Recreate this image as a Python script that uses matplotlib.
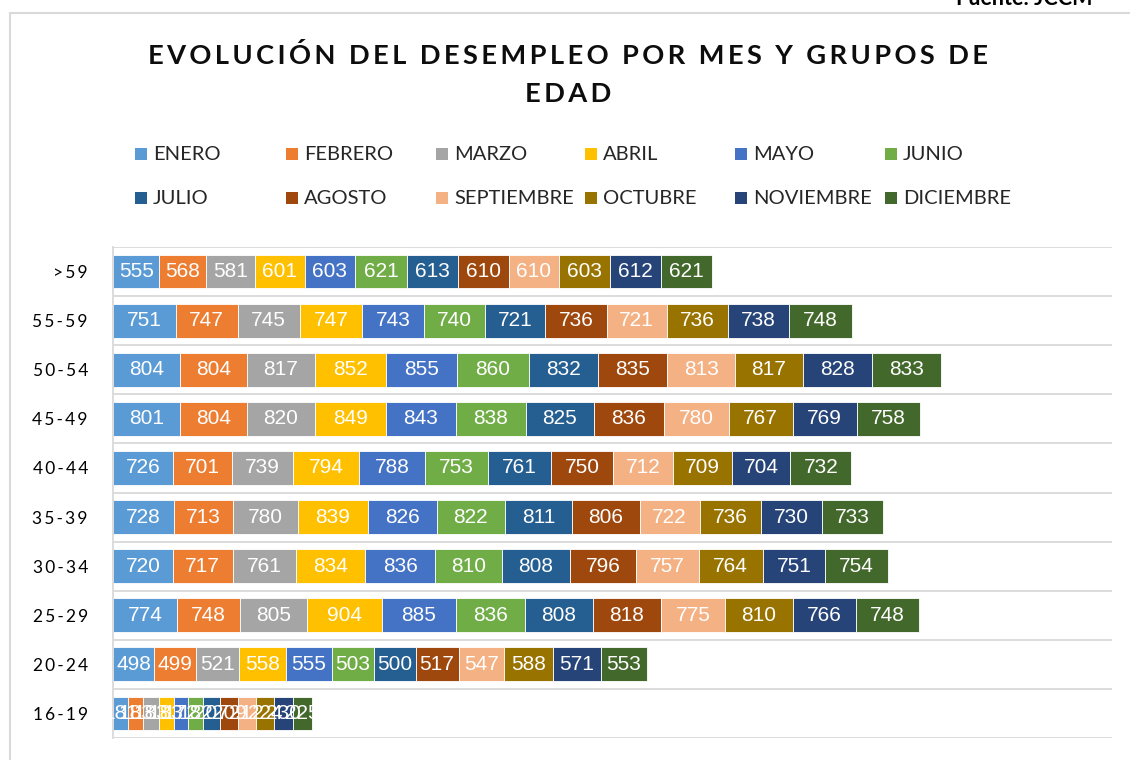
import matplotlib.pyplot as plt
import matplotlib.patches as mpatches
import numpy as np

plt.rcParams['font.family'] = ['Lato', 'DejaVu Sans']

meses = ['ENERO', 'FEBRERO', 'MARZO', 'ABRIL', 'MAYO', 'JUNIO',
         'JULIO', 'AGOSTO', 'SEPTIEMBRE', 'OCTUBRE', 'NOVIEMBRE', 'DICIEMBRE']
colores = ['#5B9BD5', '#ED7D31', '#A5A5A5', '#FFC000', '#4472C4', '#70AD47',
           '#255E91', '#9E480E', '#F4B183', '#997300', '#264478', '#43682B']

# grupos de edad (de abajo hacia arriba)
grupos = ['16-19', '20-24', '25-29', '30-34', '35-39', '40-44',
          '45-49', '50-54', '55-59', '>59']

# desempleados por mes (enero..diciembre) para cada grupo
g16_19 = [181, 183, 183, 183, 172, 182, 207, 209, 212, 224, 230, 225]
g20_24 = [498, 499, 521, 558, 555, 503, 500, 517, 547, 588, 571, 553]
g25_29 = [774, 748, 805, 904, 885, 836, 808, 818, 775, 810, 766, 748]
g30_34 = [720, 717, 761, 834, 836, 810, 808, 796, 757, 764, 751, 754]
g35_39 = [728, 713, 780, 839, 826, 822, 811, 806, 722, 736, 730, 733]
g40_44 = [726, 701, 739, 794, 788, 753, 761, 750, 712, 709, 704, 732]
g45_49 = [801, 804, 820, 849, 843, 838, 825, 836, 780, 767, 769, 758]
g50_54 = [804, 804, 817, 852, 855, 860, 832, 835, 813, 817, 828, 833]
g55_59 = [751, 747, 745, 747, 743, 740, 721, 736, 721, 736, 738, 748]
g59 = [555, 568, 581, 601, 603, 621, 613, 610, 610, 603, 612, 621]

datos = np.array([g16_19, g20_24, g25_29, g30_34, g35_39, g40_44,
                  g45_49, g50_54, g55_59, g59])


def espaciar(txt, sep='\u200a'):
    return sep.join(txt)


W, H = 1130, 760
fig = plt.figure(figsize=(W / 100, H / 100), dpi=100)
ax = fig.add_axes([113 / W, 1 - 738 / H, 999 / W, 491 / H])

# marco del grafico
fig.patches.append(mpatches.Rectangle((10 / W, -0.05), 1.1, 1 - 13 / H + 0.05,
                                      transform=fig.transFigure, fill=False,
                                      edgecolor='#D9D9D9', linewidth=1.5))

y = np.arange(len(grupos))
izq = np.zeros(len(grupos))
for i, mes in enumerate(meses):
    barras = ax.barh(y, datos[:, i], left=izq, height=0.69, color=colores[i],
                     label=mes, edgecolor='white', linewidth=0.6)
    ax.bar_label(barras, labels=[str(v) for v in datos[:, i]], label_type='center',
                 color='white', fontsize=15, family=['Liberation Sans', 'DejaVu Sans'])
    izq += datos[:, i]

ax.set_xlim(0, 12000)
ax.set_ylim(-0.5, len(grupos) - 0.5)
ax.set_xticks([])
ax.set_yticks(y)
ax.set_yticklabels([espaciar(g, '\u2009') for g in grupos], fontsize=12.5)
ax.tick_params(axis='y', length=0, pad=18)
ax.set_yticks(np.arange(-0.5, len(grupos)), minor=True)
ax.tick_params(axis='y', which='minor', length=0)
ax.grid(axis='y', which='minor', color='#D9D9D9', linewidth=1.3)
ax.set_axisbelow(True)
for s in ['top', 'right', 'bottom']:
    ax.spines[s].set_visible(False)
ax.spines['left'].set_color('#D9D9D9')
ax.spines['left'].set_linewidth(1.3)

# titulo
fig.text(0.503, 1 - 55 / H, espaciar('EVOLUCIÓN DEL DESEMPLEO POR MES Y GRUPOS DE', '\u2009'),
         ha='center', va='center', fontsize=19.6, fontweight='bold', color='#0D0D0D')
fig.text(0.503, 1 - 94 / H, espaciar('EDAD', '\u2009'),
         ha='center', va='center', fontsize=19.6, fontweight='bold', color='#0D0D0D')
fig.text(1092 / W, 1 - 5 / H, 'Fuente: JCCM', ha='right', va='baseline',
         fontsize=15.5, fontweight='bold')

# leyenda en dos filas de seis columnas de ancho fijo
col_x = [135, 286, 436, 585, 735, 885]
fila_y = [154, 198]
for i, mes in enumerate(meses):
    cx = col_x[i % 6]
    cy = fila_y[i // 6]
    fig.patches.append(mpatches.Rectangle((cx / W, 1 - (cy + 6) / H), 12 / W, 12 / H,
                                          transform=fig.transFigure,
                                          facecolor=colores[i], edgecolor='none'))
    fig.text((cx + 18) / W, 1 - cy / H, mes, ha='left', va='center',
             fontsize=14.5, color='#262626')

fig.savefig('out.png', dpi=100)
